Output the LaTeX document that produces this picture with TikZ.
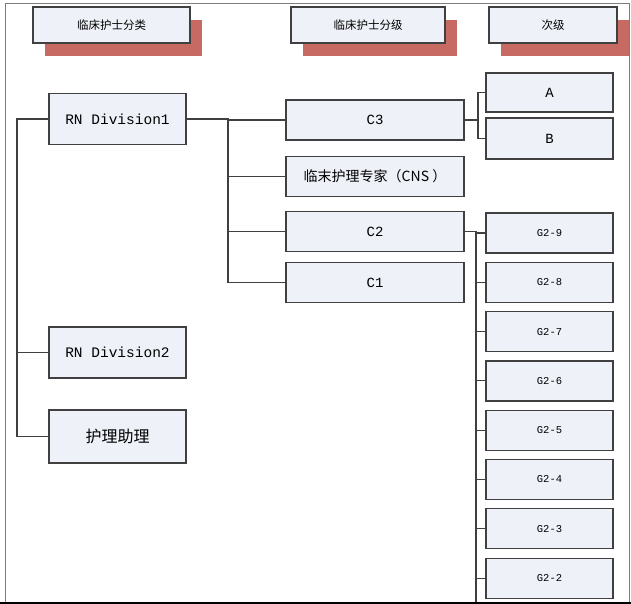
\documentclass[tikz,border=0pt]{standalone}
\usepackage{fontspec}
\setmainfont{Liberation Mono}
\newfontfamily\cjk{Noto Sans CJK SC}
\usetikzlibrary{positioning,shadows}
\definecolor{boxfill}{RGB}{238, 241, 248}
\definecolor{boxline}{RGB}{64, 64, 64}
\definecolor{shadowred}{RGB}{200, 106, 100}
\definecolor{framegray}{RGB}{125, 125, 125}

\begin{document}
\begin{tikzpicture}[
    x=1pt, y=-1pt,
    every node/.style={align=center, inner sep=0pt},
    header/.style={rectangle, minimum height=36pt, draw=boxline, fill=boxfill, line width=1.2pt, font=\cjk\fontsize{11.5}{12}\selectfont, drop shadow={shadow xshift=12pt, shadow yshift=-13pt, fill=shadowred, opacity=1}},
    division/.style={rectangle, minimum width=137pt, minimum height=51pt, draw=boxline, fill=boxfill, line width=1.2pt, font=\fontsize{14.5}{16}\selectfont},
    grade/.style={rectangle, minimum width=178pt, minimum height=40pt, draw=boxline, fill=boxfill, line width=1.2pt, font=\fontsize{14}{16}\selectfont},
    sublevel/.style={rectangle, minimum width=127pt, minimum height=40pt, draw=boxline, fill=boxfill, line width=1.2pt, font=\fontsize{14}{16}\selectfont},
    link/.style={draw=boxline, line width=1.1pt}
]
\useasboundingbox (0,0) rectangle (631,604);

% outer frame
\draw[framegray, line width=1pt] (5,602) -- (5,4) -- (629,4) -- (629,602);
\draw[black, line width=2.2pt] (0,603) -- (631,603);

% column headers
\node[header, minimum width=157pt] (hdrClass) at (111.5,25) {临床护士分类};
\node[header, minimum width=154pt] (hdrGrade) at (368,25) {临床护士分级};
\node[header, minimum width=128pt] (hdrSub) at (553,25) {次级};

% nurse classes
\node[division] (rnOne) at (117.5,119) {RN Division1};
\node[division] (rnTwo) at (117.5,352.5) {RN Division2};
\node[division, minimum height=53pt, font=\cjk\fontsize{16}{18}\selectfont] (aide) at (117.5,436.5) {护理助理};

% grades of RN Division1
\node[grade] (c3) at (375,120) {C3};
\node[grade, font=\cjk\fontsize{14}{16}\selectfont] (cns) at (375,176.5) {临末护理专家（CNS ）};
\node[grade] (c2) at (375,231.5) {C2};
\node[grade] (c1) at (375,282.5) {C1};

% sub-levels
\node[sublevel, minimum height=39pt] (subA) at (549.5,92.5) {A};
\node[sublevel, minimum height=41pt] (subB) at (549.5,138.5) {B};
\foreach \lvl [count=\i from 0] in {9,8,...,2} {
    \node[sublevel, font=\fontsize{10.5}{12}\selectfont] (g\lvl) at (549.5,233+49.3*\i) {G2-\lvl};
}

% connectors
\coordinate (trunk) at (17,0);
\coordinate (busGrade) at (228,0);
\coordinate (busAB) at (478,0);
\coordinate (busG) at (476,0);
\coordinate (busEnd) at (476,602);

\draw[link] (rnOne.west) -- (trunk |- rnOne.west) -- (trunk |- aide.west) -- (aide.west);
\draw[link] (trunk |- rnTwo.west) -- (rnTwo.west);

\draw[link] (rnOne.east) -- (busGrade |- rnOne.east) -- (busGrade |- c1.west) -- (c1.west);
\foreach \g in {c3, cns, c2} {
    \draw[link] (busGrade |- \g.west) -- (\g.west);
}

\draw[link] (c3.east) -- (busAB |- c3.east);
\draw[link] (subA.west) -- (busAB |- subA.west) -- (busAB |- subB.west) -- (subB.west);

\draw[link] (c2.east) -- (busG |- c2.east) -- (busEnd);
\foreach \lvl in {9,8,...,2} {
    \draw[link] (busG |- g\lvl.west) -- (g\lvl.west);
}

\end{tikzpicture}
\end{document}
